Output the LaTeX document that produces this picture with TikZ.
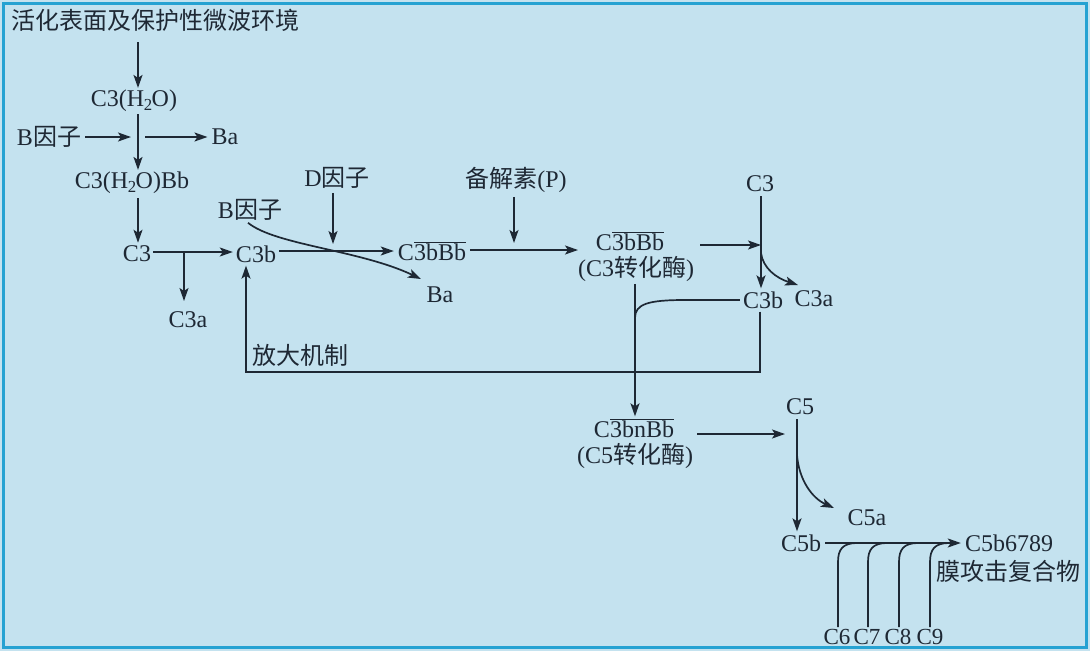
\documentclass[tikz,border=0pt]{standalone}
\usepackage{fontspec}
\setmainfont{Liberation Serif}
\newfontfamily\cjk{Noto Sans CJK SC}
\usetikzlibrary{arrows.meta}
\definecolor{bgc}{RGB}{196,226,239}
\definecolor{brc}{RGB}{38,162,210}
\definecolor{ink}{RGB}{30,40,52}
\begin{document}
\begin{tikzpicture}[x=1pt,y=-1pt,
  every node/.style={font=\fontsize{24}{28}\selectfont, inner sep=0pt, text=ink},
  small/.style={font=\fontsize{23}{28}\selectfont},
  ln/.style={draw=ink, line width=1.7pt},
  arr/.style={ln, -{Stealth[length=13pt,width=9pt,inset=3pt]}}]
\useasboundingbox (0,0) rectangle (1090,651);
\fill[bgc] (0,0) rectangle (1090,651);
\draw[brc, line width=3pt] (3.5,3.5) rectangle (1086.5,647.5);

% nodes
\node[anchor=west] (env) at (11,20) {\cjk 活化表面及保护性微波环境};
\node (c3h2o) at (134,101) {C3(H\kern-0.5pt\textsubscript{2}\kern-1pt O)};
\node (bf1) at (49,137) {B{\cjk 因子}};
\node (ba1) at (225,137) {Ba};
\node (c3h2obb) at (132,183) {C3(H\kern-0.5pt\textsubscript{2}\kern-1pt O)Bb};
\node (c3) at (137,254) {C3};
\node (c3b) at (256,254) {C3b};
\node (c3a) at (188,320) {C3a};
\node (bf2) at (250,210) {B{\cjk 因子}};
\node (df) at (337,178) {D{\cjk 因子}};
\node (ba2) at (440,295) {Ba};
\node (c3bbb) at (432,251) {C$\overline{\mbox{3bBb}}$};
\node (prop) at (516,180) {{\cjk 备解素}(P)};
\node (conv3) at (630,241) {C$\overline{\mbox{3bBb}}$};
\node (conv3l) at (636,269) {(C3{\cjk 转化酶})};
\node (c3r) at (760,184) {C3};
\node (c3b2) at (763,300) {C3b};
\node (c3a2) at (814,299) {C3a};
\node (amp) at (300,355) {\cjk 放大机制};
\node (conv5) at (634,428) {C$\overline{\mbox{3bnBb}}$};
\node (conv5l) at (635,456) {(C5{\cjk 转化酶})};
\node (c5) at (800,407) {C5};
\node (c5a) at (867,518) {C5a};
\node (c5b) at (801,543) {C5b};
\node (mac) at (1009,543) {C5b6789};
\node (macl) at (1008,571) {\cjk 膜攻击复合物};
\node[small] (c6) at (837,637) {C6};
\node[small] (c7) at (867,637) {C7};
\node[small] (c8) at (898,637) {C8};
\node[small] (c9) at (930,637) {C9};

% junction coordinates
\coordinate (ja) at (138,137);
\coordinate (jb) at (184,252);
\coordinate (jc) at (333,251);
\coordinate (jd) at (514,250);
\coordinate (je) at (761,245);
\coordinate (jf) at (635,318);
\coordinate (jg) at (797,455);
\coordinate (fb1) at (760,372);
\coordinate (fb2) at (246,372);

% connectors
\draw[arr] (ja |- 0,42) -- ([yshift=2pt]ja |- c3h2o.north);
\draw[arr] ([yshift=-2pt]ja |- c3h2o.south) -- ([yshift=2pt]ja |- c3h2obb.north);
\draw[arr] (bf1.east) ++(4,0) -- ([xshift=-7pt]ja);
\draw[arr] ([xshift=7pt]ja) -- ([xshift=-4pt]ba1.west);
\draw[arr] ([yshift=-4pt]ja |- c3h2obb.south) -- ([yshift=3pt]ja |- c3.north);
\draw[arr] ([xshift=2pt]c3.east |- jb) -- ([xshift=-3pt]c3b.west |- jb);
\draw[arr] (jb) -- (184,301);
\draw[arr] ([xshift=-2pt,yshift=-2pt]bf2.south) .. controls (275,245) and (360,250) .. (421,279);
\draw[arr] ([xshift=3pt]c3b.east |- jc) -- ([xshift=-4pt]c3bbb.west |- jc);
\draw[arr] ([yshift=-4pt]jc |- df.south) -- (333,244);
\draw[arr] ([xshift=4pt]c3bbb.east |- jd) -- (578,250);
\draw[arr] ([yshift=-4pt]jd |- prop.south) -- (514,243);
\draw[arr] (700,245) -- (je);
\draw[arr] ([yshift=-4pt]je |- c3r.south) -- ([yshift=3pt]je |- c3b2.north);
\draw[arr] (761,253) .. controls (763,268) and (776,278) .. (798,285);
\draw[ln] ([xshift=-3pt]c3b2.west) -- (685,300) .. controls (648,300) and (635,304) .. (jf);
\draw[arr] ([yshift=-2pt]jf |- conv3l.south) -- ([yshift=2pt]jf |- conv5.north);
\draw[arr] ([yshift=-3pt]fb1 |- c3b2.south) -- (fb1) -- (fb2) -- ([yshift=-3pt]fb2 |- c3b.south);
\draw[arr] ([xshift=4pt]conv5l.east |- 0,434) -- (785,434);
\draw[arr] ([yshift=-4pt]jg |- c5.south) -- ([yshift=3pt]jg |- c5b.north);
\draw[arr] (jg) .. controls (799,480) and (812,498) .. (834,508);
\draw[arr] ([xshift=4pt]c5b.east) -- ([xshift=-4pt]mac.west);
\foreach \n/\x in {c6/838,c7/868,c8/899,c9/930}{
  \draw[ln] ([yshift=2pt]\n.north -| \x,0) -- (\x,562) .. controls (\x,549) and (\x+5,543.5) .. (\x+18,543);
}
\end{tikzpicture}
\end{document}
